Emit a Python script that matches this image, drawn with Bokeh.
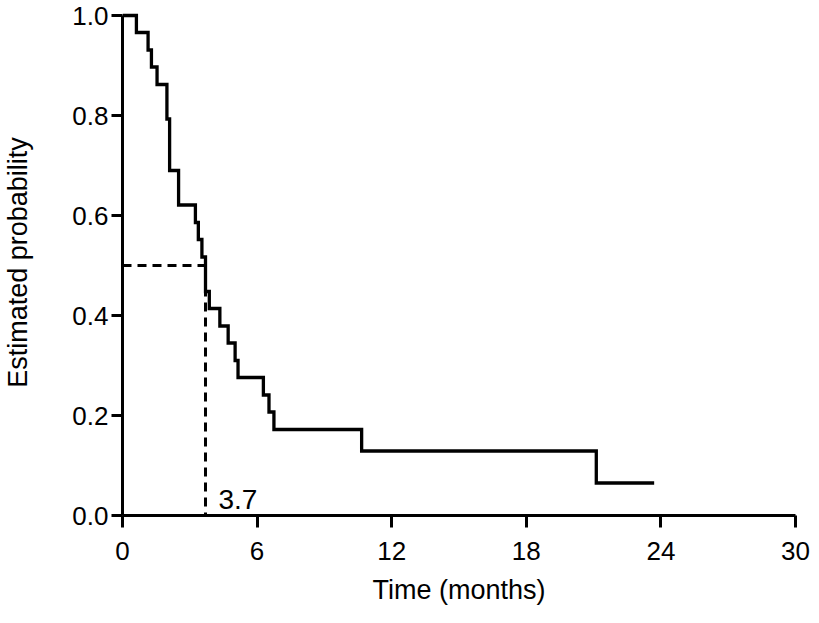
from bokeh.plotting import figure
from bokeh.models import Range1d, FixedTicker, Label
from bokeh.embed import file_html
from bokeh.resources import INLINE

# Kaplan-Meier estimate
times = [0, 0.62, 1.14, 1.29, 1.54, 1.98, 2.10, 2.50, 3.25, 3.38, 3.54, 3.70,
         3.87, 4.34, 4.71, 5.02, 5.15, 6.28, 6.53, 6.75, 10.66, 21.12, 23.7]
survival = [1.0, 0.966, 0.931, 0.897, 0.862, 0.793, 0.690, 0.621, 0.586, 0.552,
            0.517, 0.448, 0.414, 0.379, 0.345, 0.310, 0.276, 0.241, 0.207, 0.172,
            0.129, 0.065, 0.065]

median_time = 3.7
median_prob = 0.5
median_label = "3.7"

x_ticks = [0, 6, 12, 18, 24, 30]
y_ticks = [0.0, 0.2, 0.4, 0.6, 0.8, 1.0]
y_tick_labels = ["0.0", "0.2", "0.4", "0.6", "0.8", "1.0"]

FONT = "Liberation Sans"
TICK_FS = "26px"
TITLE_FS = "27px"

p = figure(width=811, height=615, output_backend="svg", toolbar_location=None,
           x_range=Range1d(0, 30), y_range=Range1d(0, 1.012),
           min_border_left=118, min_border_right=16, min_border_top=9,
           min_border_bottom=100)
p.outline_line_color = None
p.grid.visible = False
p.background_fill_color = "white"
p.border_fill_color = "white"

for ax in (p.xaxis[0], p.yaxis[0]):
    ax.axis_line_width = 3
    ax.major_tick_line_width = 3
    ax.major_tick_out = 11
    ax.major_tick_in = 0
    ax.minor_tick_line_color = None
    ax.major_label_text_font = FONT
    ax.major_label_text_font_size = TICK_FS
    ax.major_label_text_color = "black"
    ax.axis_label_text_font = FONT
    ax.axis_label_text_font_size = TITLE_FS
    ax.axis_label_text_font_style = "normal"
    ax.axis_label_text_color = "black"
    ax.axis_line_color = "black"
    ax.major_tick_line_color = "black"

p.xaxis.ticker = FixedTicker(ticks=x_ticks)
p.yaxis.ticker = FixedTicker(ticks=y_ticks)
p.yaxis.major_label_overrides = {t: s for t, s in zip(y_ticks, y_tick_labels)}
p.xaxis.bounds = (x_ticks[0], x_ticks[-1])
p.yaxis.bounds = (y_ticks[0], y_ticks[-1])
p.xaxis.major_tick_out = 12
p.xaxis.axis_label = "Time (months)"
p.yaxis.axis_label = "Estimated probability"
p.xaxis.major_label_standoff = 14
p.yaxis.major_label_standoff = 3
p.xaxis.axis_label_standoff = 12
p.yaxis.axis_label_standoff = 36

# median reference lines
p.line([0, median_time, median_time], [median_prob, median_prob, 0],
       line_color="black", line_width=3, line_dash="9 6")

# survival curve
p.step(times, survival, mode="after", line_color="black", line_width=3.3,
       line_join="miter")

p.add_layout(Label(x=median_time, y=0.032, x_offset=13, text=median_label,
                   text_font=FONT, text_font_size="28px", text_color="black",
                   text_baseline="alphabetic"))

open("out.html", "w").write(file_html(p, INLINE))
